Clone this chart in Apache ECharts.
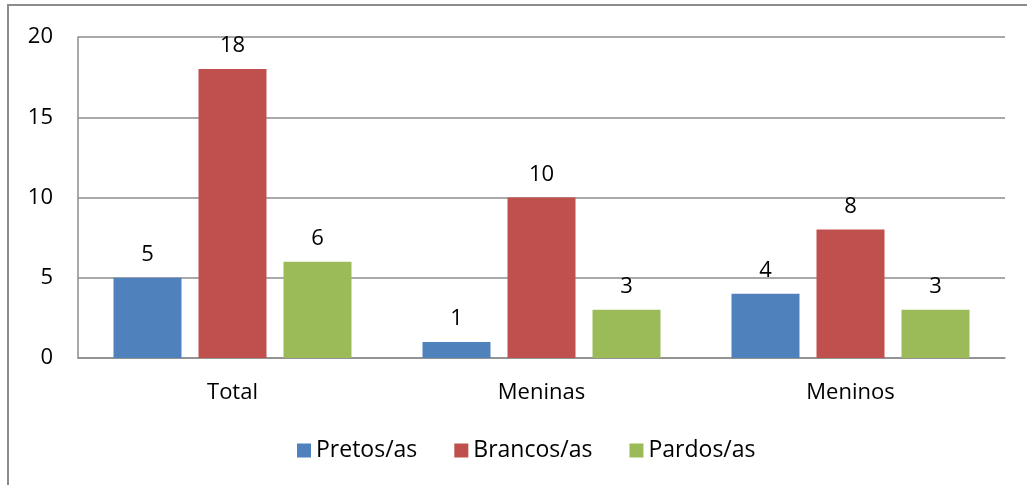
<!DOCTYPE html>
<html lang="pt">
<head>
    <meta charset="UTF-8">
    <title>Chart</title>
    <script src="https://cdn.jsdelivr.net/npm/echarts@6/dist/echarts.min.js"></script>
    <style>
        body { margin: 0; background: #fff; }
    </style>
</head>
<body>
    <div id="main" style="width: 1027px; height: 485px;"></div>
    <script>
        const categories = ["Total", "Meninas", "Meninos"];
        const pretos = [5, 1, 4];
        const brancos = [18, 10, 8];
        const pardos = [6, 3, 3];
        const seriesNames = ["Pretos/as", "Brancos/as", "Pardos/as"];
        const colors = ["#4F81BD", "#C0504D", "#9BBB59"];

        const font = "'Open Sans', sans-serif";
        const fs = 22;
        const chart = echarts.init(document.getElementById("main"));

        function bar(name, data, color) {
            return {
                name: name,
                type: "bar",
                data: data,
                barWidth: 68,
                barGap: "25%",
                itemStyle: { color: color },
                label: {
                    show: true,
                    position: "top",
                    distance: 12,
                    color: "#000",
                    fontSize: fs,
                    fontFamily: font
                }
            };
        }

        chart.setOption({
            animation: false,
            textStyle: { fontFamily: font },
            graphic: [{
                type: "rect",
                shape: { x: 8, y: 5, width: 1040, height: 500 },
                style: { fill: null, stroke: "#8c8c8c", lineWidth: 2 }
            }],
            grid: { left: 78, right: 22, top: 37, bottom: 127 },
            legend: {
                left: 292,
                bottom: 18,
                itemWidth: 14,
                itemHeight: 14,
                itemGap: 37,
                icon: "rect",
                textStyle: { fontSize: 23, color: "#000", fontFamily: font }
            },
            xAxis: {
                type: "category",
                data: categories,
                axisLine: { lineStyle: { color: "#8c8c8c", width: 1.5 } },
                axisTick: { show: false },
                axisLabel: { fontSize: fs, color: "#000", margin: 24, fontFamily: font }
            },
            yAxis: {
                type: "value",
                min: 0,
                max: 20,
                interval: 5,
                axisLine: { show: true, lineStyle: { color: "#8c8c8c", width: 1.5 } },
                axisTick: { show: false },
                splitLine: { lineStyle: { color: "#8c8c8c", width: 1.5 } },
                axisLabel: { fontSize: fs, color: "#000", margin: 25, fontFamily: font }
            },
            series: [
                bar(seriesNames[0], pretos, colors[0]),
                bar(seriesNames[1], brancos, colors[1]),
                bar(seriesNames[2], pardos, colors[2])
            ]
        });
    </script>
</body>
</html>
